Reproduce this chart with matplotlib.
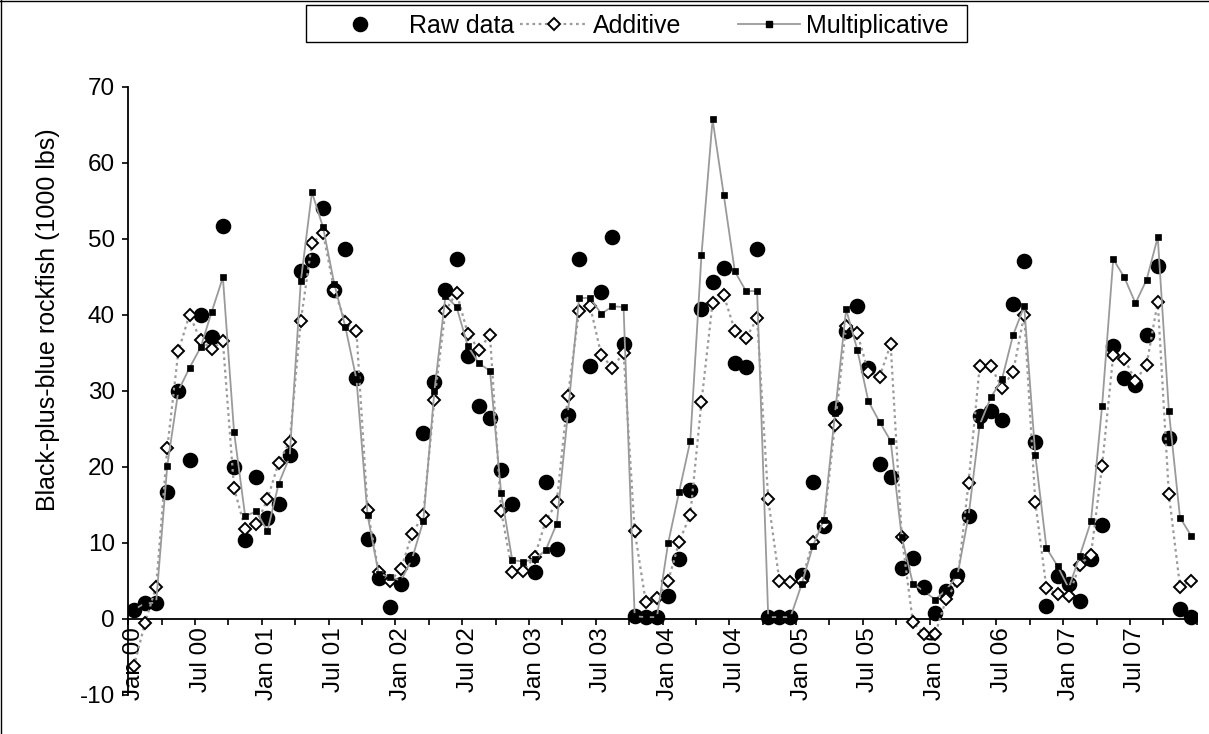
import numpy as np
import matplotlib
matplotlib.use("Agg")
import matplotlib.pyplot as plt
from matplotlib.lines import Line2D
from matplotlib.patches import Rectangle

plt.rcParams['font.family'] = ['Liberation Sans', 'DejaVu Sans']
plt.rcParams['axes.unicode_minus'] = False

# ---------------- data (monthly, Jan 2000 - Dec 2007) ----------------
raw_data = [1.1, 2.0, 2.0, 16.7, 29.9, 20.9, 40.0, 37.1, 51.7, 19.9, 10.4, 18.6,
            13.3, 15.1, 21.5, 45.7, 47.2, 54.1, 43.3, 48.6, 31.7, 10.5, 5.4, 1.5,
            4.6, 7.8, 24.4, 31.2, 43.3, 47.3, 34.6, 28.0, 26.4, 19.6, 15.1, np.nan,
            6.2, 18.0, 9.1, 26.8, 47.3, 33.3, 43.0, 50.2, 36.2, 0.3, 0.2, 0.2,
            3.0, 7.8, 16.9, 40.7, 44.3, 46.2, 33.6, 33.1, 48.6, 0.2, 0.2, 0.2,
            5.7, 18.0, 12.2, 27.7, 37.8, 41.2, 33.0, 20.3, 18.6, 6.7, 8.0, 4.1,
            0.7, 3.6, 5.7, 13.5, 26.7, 27.3, 26.2, 41.4, 47.0, 23.3, 1.7, 5.6,
            4.6, 2.3, 7.9, 12.3, 35.9, 31.7, 30.7, 37.3, 46.4, 23.8, 1.2, 0.2]

additive = [-6.3, -0.6, 4.2, 22.4, 35.2, 40.0, 36.6, 35.5, 36.5, 17.2, 11.8, 12.4,
            15.7, 20.5, 23.3, 39.2, 49.4, 50.7, 43.3, 39.0, 37.8, 14.3, 6.1, 4.9,
            6.5, 11.2, 13.6, 28.8, 40.5, 42.9, 37.5, 35.4, 37.3, 14.2, 6.2, 6.3,
            8.1, 12.8, 15.3, 29.3, 40.5, 41.1, 34.7, 33.0, 35.0, 11.5, 2.2, 2.7,
            4.9, 10.1, 13.7, 28.5, 41.6, 42.6, 37.9, 36.9, 39.5, 15.7, 5.0, 4.8,
            4.9, 10.1, 12.5, 25.5, 38.5, 37.6, 32.4, 31.8, 36.1, 10.8, -0.5, -2.0,
            -2.0, 2.6, 4.9, 17.9, 33.2, 33.2, 30.4, 32.4, 40.0, 15.3, 4.0, 3.2,
            3.0, 7.1, 8.4, 20.1, 34.7, 34.2, 31.3, 33.4, 41.7, 16.4, 4.2, 5.0]

multiplicative = [1.2, 2.0, 2.1, 20.1, 30.0, 33.0, 35.7, 40.4, 44.9, 24.6, 13.5, 14.1,
                  11.5, 17.7, 21.3, 44.4, 56.1, 51.5, 44.1, 38.4, 31.5, 13.6, 5.9, 5.5,
                  5.0, 7.9, 12.8, 29.9, 42.5, 41.0, 35.9, 33.6, 32.6, 16.5, 7.7, 7.5,
                  7.8, 9.0, 12.5, 27.0, 42.2, 42.2, 40.1, 41.1, 41.0, 0.3, 0.2, 0.2,
                  9.9, 16.7, 23.4, 47.8, 65.7, 55.8, 45.7, 43.1, 43.1, 0.2, 0.2, 0.2,
                  4.5, 9.5, 13.0, 27.0, 40.7, 35.4, 28.6, 25.9, 23.4, 10.7, 4.6, 3.6,
                  2.5, 3.8, 5.7, 13.5, 25.5, 29.1, 31.5, 37.3, 41.1, 21.5, 9.3, 6.9,
                  4.0, 8.3, 12.8, 28.0, 47.3, 44.9, 41.5, 44.6, 50.2, 27.3, 13.3, 10.9]

tick_labels = ["Jan 00", "Jul 00", "Jan 01", "Jul 01", "Jan 02", "Jul 02", "Jan 03", "Jul 03",
               "Jan 04", "Jul 04", "Jan 05", "Jul 05", "Jan 06", "Jul 06", "Jan 07", "Jul 07"]

series_names = ["Raw data", "Additive", "Multiplicative"]
y_label = "Black-plus-blue rockfish (1000 lbs)"

# ---------------- figure ----------------
W, H = 1209, 734
fig = plt.figure(figsize=(W / 100, H / 100), dpi=100)
FS_TICK = 17.5
FS_LABEL = 18
FS_LEG = 18

def px_axes(l, t, r, b):
    return [l / W, 1 - b / H, (r - l) / W, (b - t) / H]

ax = fig.add_axes(px_axes(128.3, 86.7, 1196.7, 694.6))

x = np.arange(len(raw_data))
grey = '#9a9a9a'
dots = (0, (1.2, 1.6))
ax.plot(x, raw_data, linestyle='none', marker='o', markersize=10.2,
        color='black', zorder=3)
ax.plot(x, additive, linestyle=dots, linewidth=1.6, color=grey,
        marker='D', markersize=6.6, markerfacecolor='white',
        markeredgecolor='black', markeredgewidth=1.4, zorder=4)
ax.plot(x, multiplicative, linestyle='-', linewidth=1.3, color=grey,
        marker='s', markersize=4.2, markerfacecolor='black',
        markeredgecolor='black', markeredgewidth=0.5, zorder=5)

ax.set_xlim(-0.5, len(raw_data) - 0.5)
ax.set_ylim(-10, 70)
ax.set_yticks(np.arange(-10, 71, 10))

ax.set_xticks(np.arange(0, len(raw_data), 6))
ax.set_xticklabels(tick_labels)
ax.set_xticks(np.arange(-0.5, len(raw_data), 3), minor=True)

for s in ['top', 'right']:
    ax.spines[s].set_visible(False)
ax.spines['bottom'].set_position(('data', 0))
ax.spines['bottom'].set_linewidth(1.3)
ax.spines['left'].set_linewidth(1.3)
ax.spines['bottom'].set_zorder(2)

ax.tick_params(axis='x', which='major', length=0, pad=6, labelsize=FS_TICK,
               labelrotation=90)
ax.tick_params(axis='x', which='minor', length=4.5, width=1.2, direction='out')
ax.tick_params(axis='y', which='major', length=4.5, width=1.2, direction='out',
               pad=5, labelsize=FS_TICK)
ax.set_ylabel(y_label, fontsize=FS_LABEL)
ax.yaxis.set_label_coords(-0.064, 0.616)
ax.set_facecolor('none')

# ---------------- legend (drawn in figure pixels) ----------------
def fx(px):
    return px / W

def fy(py):
    return 1 - py / H

fig.add_artist(Rectangle((fx(306), fy(42)), fx(967) - fx(306), fy(5) - fy(42),
                         transform=fig.transFigure, facecolor='white',
                         edgecolor='black', linewidth=1.0, zorder=10))
ly = 23.5
fig.add_artist(Line2D([fx(360)], [fy(ly)], transform=fig.transFigure,
                      linestyle='none', marker='o', markersize=10.2,
                      color='black', zorder=11))
fig.text(fx(409), fy(ly), series_names[0], fontsize=FS_LEG, va='center_baseline',
         ha='left', zorder=11)
fig.add_artist(Line2D([fx(520), fx(588)], [fy(ly), fy(ly)], transform=fig.transFigure,
                      linestyle=dots, linewidth=1.6, color=grey, zorder=11))
fig.add_artist(Line2D([fx(554)], [fy(ly)], transform=fig.transFigure,
                      linestyle='none', marker='D', markersize=6.6,
                      markerfacecolor='white', markeredgecolor='black',
                      markeredgewidth=1.4, zorder=12))
fig.text(fx(593), fy(ly), series_names[1], fontsize=FS_LEG, va='center_baseline',
         ha='left', zorder=11)
fig.add_artist(Line2D([fx(738), fx(800)], [fy(ly), fy(ly)], transform=fig.transFigure,
                      linestyle='-', linewidth=1.3, color=grey, zorder=11))
fig.add_artist(Line2D([fx(769)], [fy(ly)], transform=fig.transFigure,
                      linestyle='none', marker='s', markersize=4.2,
                      color='black', zorder=12))
fig.text(fx(806), fy(ly), series_names[2], fontsize=FS_LEG, va='center_baseline',
         ha='left', zorder=11)

# outer border (top and left edges visible)
fig.add_artist(Line2D([0, 1], [fy(1.2), fy(1.2)], transform=fig.transFigure,
                      color='black', linewidth=1.0, zorder=20))
fig.add_artist(Line2D([fx(1.2), fx(1.2)], [0, 1], transform=fig.transFigure,
                      color='black', linewidth=1.0, zorder=20))

fig.savefig("out.png", dpi=100)
